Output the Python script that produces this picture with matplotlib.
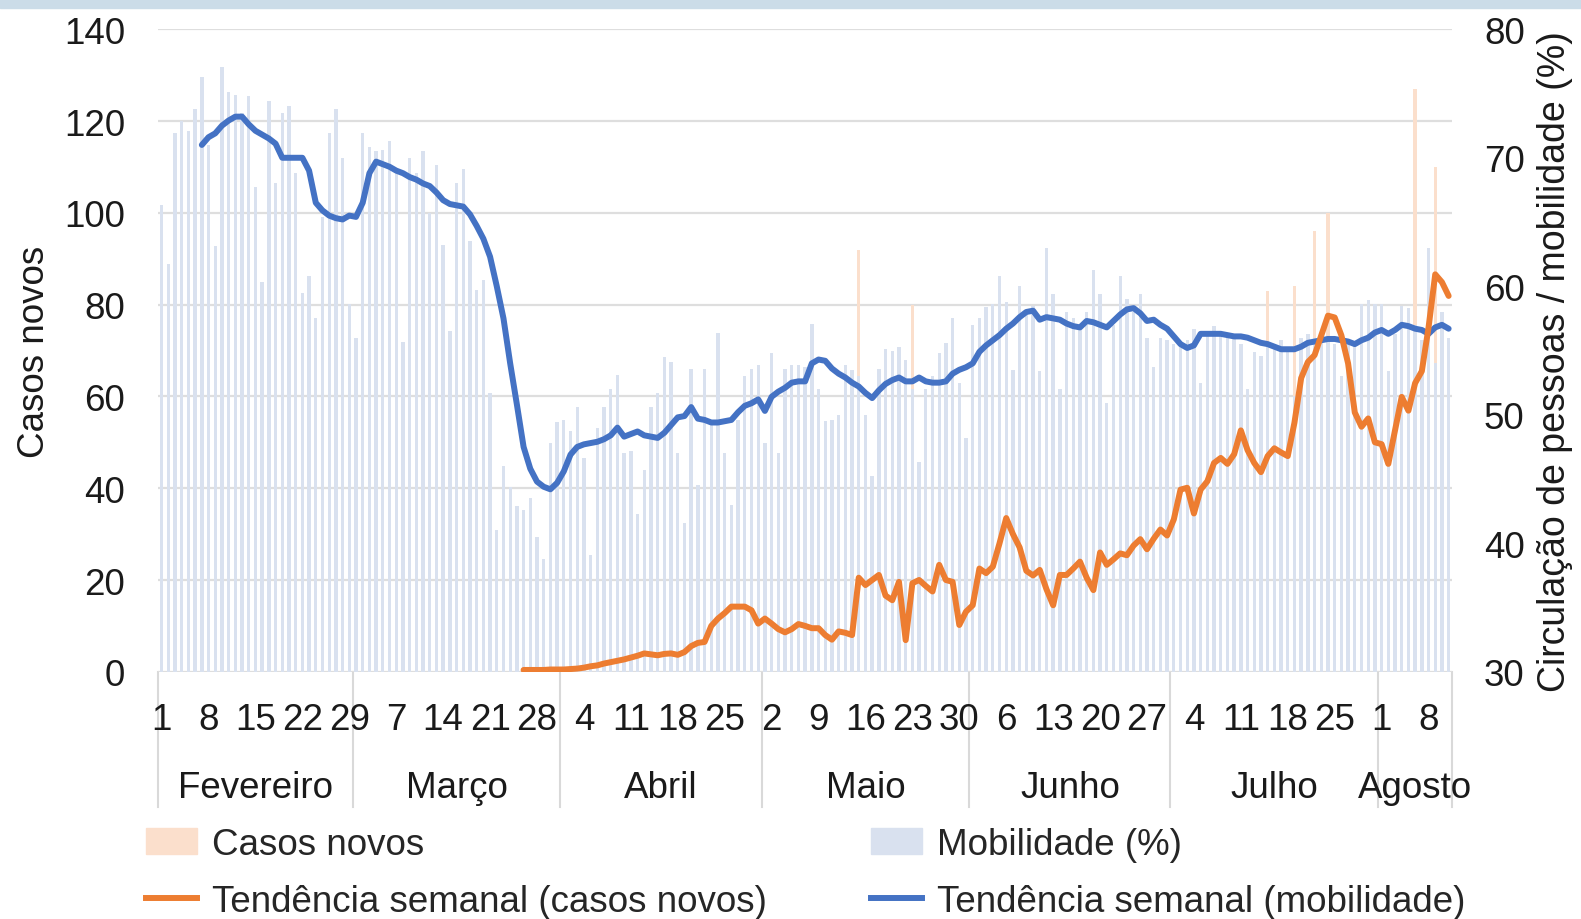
import matplotlib.pyplot as plt
import numpy as np
import pandas as pd
from matplotlib.patches import Rectangle, Patch
from matplotlib.lines import Line2D

plt.rcParams['font.family'] = ['Liberation Sans', 'DejaVu Sans']
plt.rcParams['font.size'] = 26.5

# dados diarios, de 1 de fevereiro a 12 de agosto de 2020
inicio = '2020-02-01'
meses = ['Fevereiro', 'Março', 'Abril', 'Maio', 'Junho', 'Julho', 'Agosto']

# mobilidade (%), eixo da direita
mobilidade = [
    66.3, 61.7, 71.9, 72.9, 72.1, 73.8, 76.3,
    71.0, 63.1, 77.1, 75.1, 74.9, 73.5, 74.8,
    67.7, 60.3, 74.4, 68.0, 73.5, 74.0, 68.8,
    59.5, 60.8, 57.5, 65.4, 71.9, 73.8, 70.0,
    58.6, 56.0, 71.9, 70.8, 70.5, 70.6, 71.3,
    68.8, 55.7, 70.0, 68.8, 70.5, 65.7, 69.4,
    63.2, 56.5, 68.0, 69.1, 63.5, 59.7, 60.5,
    51.7, 41.0, 46.0, 44.4, 42.9, 42.6, 43.5,
    40.5, 38.8, 47.8, 49.4, 49.6, 48.7, 50.6,
    46.6, 39.1, 49.0, 50.6, 52.0, 53.1, 47.0,
    47.2, 42.3, 45.7, 50.6, 51.7, 54.5, 54.1,
    47.0, 41.6, 53.6, 44.5, 53.6, 49.6, 56.4,
    47.0, 43.0, 49.6, 53.0, 53.6, 53.9, 47.8,
    54.8, 47.0, 53.6, 53.9, 53.9, 53.7, 57.1,
    52.0, 49.5, 49.6, 50.0, 53.9, 53.5, 53.0,
    50.0, 45.2, 53.6, 55.1, 55.0, 55.3, 54.3,
    52.0, 46.3, 52.0, 53.0, 54.8, 55.6, 57.5,
    52.5, 48.2, 57.0, 57.5, 58.4, 58.6, 60.8,
    58.8, 53.5, 60.0, 58.0, 58.5, 53.4, 63.0,
    59.4, 52.0, 58.0, 57.5, 57.0, 58.0, 61.3,
    59.4, 50.9, 57.0, 60.8, 59.0, 58.0, 59.4,
    56.0, 53.7, 56.0, 55.8, 55.5, 55.5, 55.8,
    56.7, 52.5, 56.3, 56.9, 56.5, 56.3, 56.0,
    55.5, 52.0, 54.9, 54.6, 55.5, 55.3, 55.8,
    55.3, 51.5, 56.0, 56.3, 56.0, 56.3, 56.0,
    55.5, 53.0, 55.8, 55.5, 58.6, 58.9, 58.6,
    58.6, 53.4, 56.3, 58.5, 58.3, 57.0, 55.8,
    63.0, 54.0, 58.0, 56.0,
]

# casos novos por dia, eixo da esquerda
casos = [0] * 48 + [
    0, 1, 0, 0, 1, 0, 1,
    0, 0, 1, 1, 0, 1, 1,
    1, 2, 3, 2, 3, 3, 3,
    4, 5, 4, 6, 2, 3, 7,
    6, 0, 6, 11, 7, 4, 30,
    17, 9, 16, 11, 4, 13, 10,
    15, 7, 8, 6, 9, 20, 8,
    4, 8, 5, 2, 19, 6, 0,
    92, 0, 14, 9, 4, 0, 29,
    3, 80, 5, 0, 20, 41, 7,
    3, 10, 20, 22, 10, 14, 15,
    44, 56, 22, 10, 0, 3, 30,
    15, 30, 15, 25, 35, 14, 14,
    18, 60, 10, 24, 36, 15, 48,
    7, 31, 31, 38, 20, 55, 60,
    48, 0, 55, 48, 68, 24, 45,
    63, 52, 25, 22, 60, 83, 60,
    43, 35, 84, 70, 67, 96, 60,
    100, 68, 50, 70, 55, 50, 40,
    70, 70, 21, 70, 75, 55, 127,
    68, 60, 110, 70, 60,
]

# tendencia semanal (media movel de 7 dias)
tend_mob_inicio = 6
tend_mob = [
    71.0, 71.6, 71.9, 72.5, 72.9, 73.2, 73.2,
    72.6, 72.1, 71.8, 71.5, 71.1, 70.0, 70.0,
    70.0, 70.0, 69.0, 66.5, 65.9, 65.5, 65.3,
    65.2, 65.5, 65.4, 66.5, 68.8, 69.7, 69.5,
    69.3, 69.0, 68.8, 68.5, 68.3, 68.0, 67.8,
    67.3, 66.7, 66.4, 66.3, 66.2, 65.6, 64.7,
    63.7, 62.3, 60.0, 57.5, 54.0, 50.8, 47.5,
    45.8, 44.8, 44.4, 44.2, 44.7, 45.6, 46.9,
    47.5, 47.7, 47.8, 47.9, 48.1, 48.4, 49.0,
    48.3, 48.5, 48.7, 48.4, 48.3, 48.2, 48.6,
    49.2, 49.8, 49.9, 50.6, 49.7, 49.6, 49.4,
    49.4, 49.5, 49.6, 50.2, 50.7, 50.9, 51.2,
    50.3, 51.4, 51.8, 52.1, 52.5, 52.6, 52.6,
    54.0, 54.3, 54.2, 53.6, 53.2, 52.9, 52.5,
    52.2, 51.7, 51.3, 51.9, 52.4, 52.7, 52.9,
    52.6, 52.6, 52.9, 52.6, 52.5, 52.5, 52.6,
    53.2, 53.5, 53.7, 54.0, 54.9, 55.4, 55.8,
    56.2, 56.7, 57.1, 57.6, 58.0, 58.1, 57.4,
    57.6, 57.5, 57.4, 57.1, 56.9, 56.8, 57.3,
    57.2, 57.0, 56.8, 57.3, 57.8, 58.2, 58.3,
    57.9, 57.3, 57.4, 57.0, 56.7, 56.1, 55.5,
    55.2, 55.4, 56.3, 56.3, 56.3, 56.3, 56.2,
    56.1, 56.1, 56.0, 55.8, 55.6, 55.5, 55.3,
    55.1, 55.1, 55.1, 55.3, 55.6, 55.7, 55.8,
    55.9, 55.9, 55.8, 55.7, 55.5, 55.8, 56.0,
    56.4, 56.6, 56.3, 56.6, 57.0, 56.9, 56.7,
    56.6, 56.3, 56.8, 57.0, 56.7,
]

tend_casos_inicio = 54
tend_casos = [
    0.4, 0.4, 0.4, 0.4, 0.5, 0.5, 0.5,
    0.6, 0.7, 0.9, 1.2, 1.4, 1.8, 2.1,
    2.4, 2.7, 3.1, 3.5, 4.0, 3.8, 3.6,
    3.9, 4.0, 3.7, 4.3, 5.6, 6.3, 6.5,
    10.0, 11.6, 12.8, 14.2, 14.2, 14.2, 13.4,
    10.5, 11.6, 10.5, 9.3, 8.6, 9.3, 10.4,
    10.0, 9.5, 9.5, 8.0, 7.0, 8.8, 8.5,
    8.0, 20.5, 18.9, 20.0, 21.1, 16.6, 15.6,
    19.6, 6.9, 19.3, 20.0, 18.7, 17.5, 23.3,
    20.0, 19.6, 10.2, 13.1, 14.5, 22.5, 21.5,
    22.9, 28.0, 33.5, 30.0, 27.1, 22.0, 21.0,
    22.2, 18.0, 14.5, 21.1, 21.1, 22.5, 24.0,
    20.5, 17.8, 26.0, 23.3, 24.5, 25.8, 25.4,
    27.5, 28.9, 26.7, 29.0, 31.0, 29.7, 33.2,
    39.7, 40.1, 34.5, 39.7, 41.5, 45.5, 46.6,
    45.3, 47.4, 52.6, 48.3, 45.5, 43.5, 47.0,
    48.7, 47.8, 47.0, 54.3, 64.0, 67.5, 69.0,
    73.3, 77.6, 77.2, 73.3, 67.2, 56.5, 53.4,
    55.2, 50.0, 49.6, 45.3, 52.6, 59.9, 56.9,
    62.9, 65.5, 75.0, 86.6, 84.9, 81.9,
]

cor_casos = '#fbdfcc'
cor_mob = '#d9e1ef'
cor_laranja = '#ed7d31'
cor_azul = '#4472c4'
cor_texto = '#1a1a1a'

datas = pd.date_range(inicio, periods=len(mobilidade))
x = np.arange(len(datas))
x_tm = np.arange(tend_mob_inicio, tend_mob_inicio + len(tend_mob))
x_tc = np.arange(tend_casos_inicio, tend_casos_inicio + len(tend_casos))

fig = plt.figure(figsize=(15.81, 9.2), dpi=100)
fig.patches.append(Rectangle((0, 1 - 9 / 920), 1, 9 / 920, transform=fig.transFigure,
                             color='#cbdce8', zorder=0))

ax = fig.add_axes([0.1001, 0.2687, 0.8183, 0.6984])
ax.bar(x, casos, width=0.5, color=cor_casos, zorder=2)
ax.set_xlim(-0.5, len(x) - 0.5)
ax.set_ylim(0, 140)
ax.set_yticks(range(0, 141, 20))
ax.grid(axis='y', color='#dedede', linewidth=1.6, zorder=0)
ax.set_axisbelow(True)
for s in ax.spines.values():
    s.set_visible(False)
ax.tick_params(axis='y', length=0, pad=24, labelcolor=cor_texto)
ax.set_ylabel('Casos novos', color=cor_texto)
ax.yaxis.set_label_coords(-0.082, 0.5)

# dias (de 7 em 7) e meses
tick_pos = x[::7]
ax.set_xticks(tick_pos)
ax.set_xticklabels([str(d.day) for d in datas[tick_pos]])
ax.tick_params(axis='x', length=0, pad=22, labelcolor=cor_texto)

trans = ax.get_xaxis_transform()
mes_num = datas.month.values
limites = [-0.5]
for i, m in enumerate(meses):
    idx = x[mes_num == mes_num[0] + i]
    centro = (idx[0] + idx[-1]) / 2
    ax.text(centro, -0.18, m, transform=trans, ha='center', va='center', color=cor_texto)
    limites.append(idx[-1] + 0.5)
for b in limites:
    ax.plot([b, b], [0, -0.21], transform=trans, color='#d9d9d9', lw=1.5,
            clip_on=False, zorder=0.5)

# mobilidade (barras) no eixo da direita
ax2 = ax.twinx()
ax2.bar(x, mobilidade, width=0.5, color=cor_mob)
ax2.set_ylim(30, 80)
ax2.set_yticks(range(30, 81, 10))
for s in ax2.spines.values():
    s.set_visible(False)
ax2.tick_params(axis='y', length=0, pad=23, labelcolor=cor_texto)
ax2.set_ylabel('Circulação de pessoas / mobilidade (%)', color=cor_texto, fontsize=27)
ax2.yaxis.set_label_coords(1.066, 0.485)

# linhas de tendencia
ax_bl = ax.twinx()
ax_bl.plot(x_tm, tend_mob, color=cor_azul, lw=4.3, solid_capstyle='round')
ax_bl.set_ylim(30, 80)
ax_bl.axis('off')

ax_or = ax.twinx()
ax_or.plot(x_tc, tend_casos, color=cor_laranja, lw=4.3, solid_capstyle='round')
ax_or.set_ylim(0, 140)
ax_or.axis('off')
for a in (ax_bl, ax_or):
    a.set_xlim(-0.5, len(x) - 0.5)

handles = [Patch(color=cor_casos), Line2D([], [], color=cor_laranja, lw=4.3),
           Patch(color=cor_mob), Line2D([], [], color=cor_azul, lw=4.3)]
labels = ['Casos novos', 'Tendência semanal (casos novos)',
          'Mobilidade (%)', 'Tendência semanal (mobilidade)']
leg = fig.legend(handles, labels, ncol=2, loc='upper left', bbox_to_anchor=(0.0923, 0.1005),
                 frameon=False, handlelength=1.4, handletextpad=0.4, columnspacing=2.82,
                 labelspacing=0.6, borderpad=0, borderaxespad=0)
for t in leg.get_texts():
    t.set_color('#262626')

fig.savefig('out.png', dpi=100)
